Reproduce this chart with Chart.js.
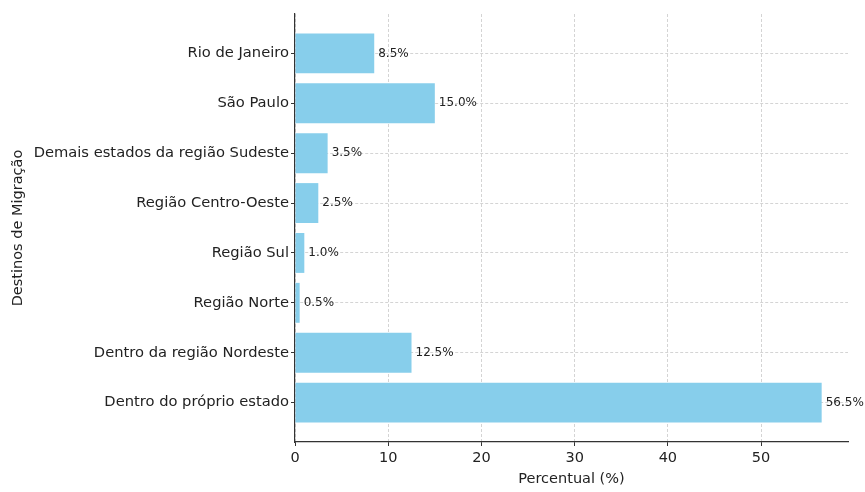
<!DOCTYPE html>
<html>
<head>
<meta charset="utf-8">
<script src="https://cdn.jsdelivr.net/npm/chart.js@4.4.1/dist/chart.umd.min.js"></script>
<style>
	body { margin: 0; background: #fff; }
	#chart { display: block; }
</style>
</head>
<body>
<canvas id="chart" width="865" height="492"></canvas>
<script>
	// Destinos (de cima para baixo) e percentuais
	const destinos = [
		'Rio de Janeiro',
		'São Paulo',
		'Demais estados da região Sudeste',
		'Região Centro-Oeste',
		'Região Sul',
		'Região Norte',
		'Dentro da região Nordeste',
		'Dentro do próprio estado'
	];
	const percentuais = [8.5, 15.0, 3.5, 2.5, 1.0, 0.5, 12.5, 56.5];
	const xTicks = [0, 10, 20, 30, 40, 50];

	const fonte = 'DejaVu Sans';

	// rótulos de valor ao lado de cada barra
	const rotulosValor = {
		id: 'rotulosValor',
		afterDraw(chart) {
			const ctx = chart.ctx;
			const meta = chart.getDatasetMeta(0);
			ctx.save();
			ctx.font = '12px "' + fonte + '"';
			ctx.fillStyle = '#222';
			ctx.textAlign = 'left';
			ctx.textBaseline = 'middle';
			meta.data.forEach((bar, i) => {
				ctx.fillText(percentuais[i].toFixed(1) + '%', bar.x + 4, bar.y);
			});
			ctx.restore();
		}
	};

	const ctx = document.getElementById('chart').getContext('2d');
	window.chartMigracao = new Chart(ctx, {
		type: 'bar',
		data: {
			datasets: [{
				data: percentuais.map((v, i) => ({ x: v, y: i })),
				backgroundColor: '#87CEEB',
				borderWidth: 0,
				barPercentage: 0.8,
				categoryPercentage: 1
			}]
		},
		options: {
			indexAxis: 'y',
			responsive: false,
			animation: false,
			layout: { padding: { top: 14, right: 17, left: 0, bottom: 0 } },
			plugins: {
				legend: { display: false },
				tooltip: { enabled: false }
			},
			scales: {
				x: {
					type: 'linear',
					min: 0,
					max: 59.325,
					z: 1,
					afterFit: (s) => { s.height = 50; },
					afterBuildTicks: (s) => { s.ticks = xTicks.map(v => ({ value: v })); },
					ticks: {
						color: '#222',
						font: { family: fonte, size: 14.5 },
						padding: 4
					},
					grid: {
						color: 'rgba(0,0,0,0.17)',
						tickColor: '#333',
						tickLength: 4,
						tickBorderDash: []
					},
					border: { color: '#333', width: 1.2, dash: [3, 2] },
					title: {
						display: true,
						text: 'Percentual (%)',
						color: '#222',
						font: { family: fonte, size: 14.5 },
						padding: { top: 0, bottom: 4 }
					}
				},
				y: {
					type: 'linear',
					min: -0.79,
					max: 7.79,
					reverse: true,
					offset: false,
					z: 1,
					afterFit: (s) => { s.width = 295; },
					afterBuildTicks: (s) => { s.ticks = destinos.map((d, i) => ({ value: i })); },
					ticks: {
						color: '#222',
						font: { family: fonte, size: 14.7 },
						padding: 2,
						callback: (v) => destinos[v]
					},
					grid: {
						offset: false,
						color: 'rgba(0,0,0,0.17)',
						tickColor: '#333',
						tickLength: 4,
						tickBorderDash: []
					},
					border: { color: '#333', width: 1.2, dash: [3, 2] },
					title: {
						display: true,
						text: 'Destinos de Migração',
						color: '#222',
						font: { family: fonte, size: 14.5 },
						padding: { top: 10, bottom: 0 }
					}
				}
			}
		},
		plugins: [rotulosValor]
	});
</script>
</body>
</html>
